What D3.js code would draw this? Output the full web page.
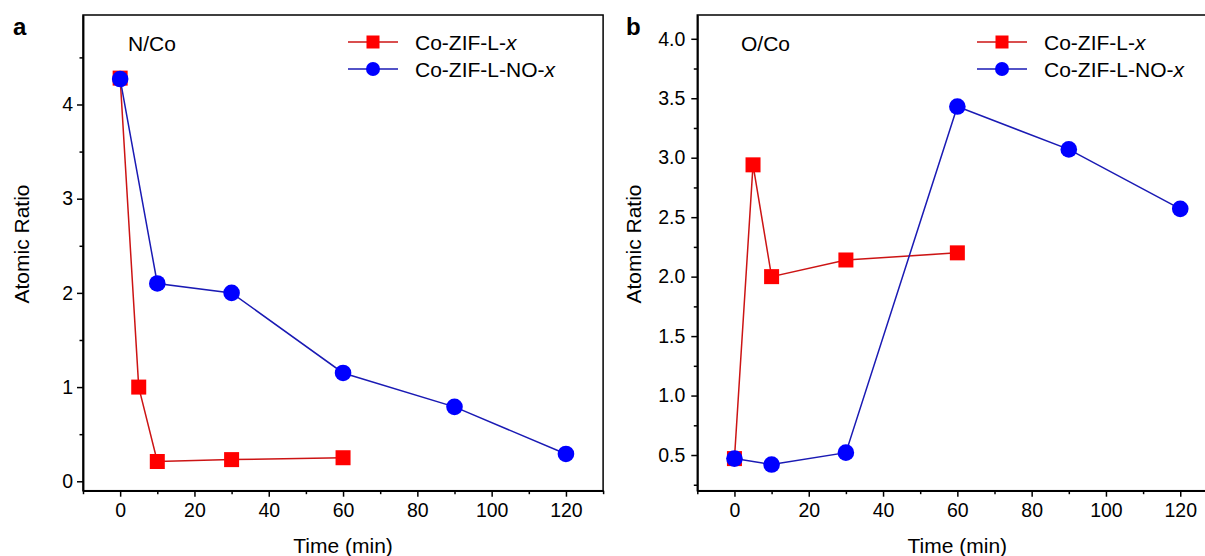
<!DOCTYPE html>
<html>
<head>
<meta charset="utf-8">
<script src="https://cdn.jsdelivr.net/npm/d3@7"></script>
<style>
  body { margin: 0; background: #fff; }
  svg text { font-family: "Liberation Sans", Arial, sans-serif; fill: #000; }
</style>
</head>
<body>
<div id="chart"></div>
<script>
// Chart data
const SERIES_NAMES = ["Co-ZIF-L-", "Co-ZIF-L-NO-"];

const TIME_A_RED = [0, 5, 10, 30, 60];
const RATIO_A_RED = [4.28, 1.0, 0.21, 0.23, 0.25];
const TIME_A_BLUE = [0, 10, 30, 60, 90, 120];
const RATIO_A_BLUE = [4.27, 2.10, 2.00, 1.15, 0.79, 0.29];

const TIME_B_RED = [0, 5, 10, 30, 60];
const RATIO_B_RED = [0.47, 2.94, 2.00, 2.14, 2.20];
const TIME_B_BLUE = [0, 10, 30, 60, 90, 120];
const RATIO_B_BLUE = [0.47, 0.42, 0.52, 3.43, 3.07, 2.57];

const X_TICKS = [0, 20, 40, 60, 80, 100, 120];
const X_MINOR = [-10, 10, 30, 50, 70, 90, 110, 130];
const Y_TICKS_A = [0, 1, 2, 3, 4];
const Y_MINOR_A = [0.5, 1.5, 2.5, 3.5, 4.5];
const Y_TICKS_B = [0.5, 1.0, 1.5, 2.0, 2.5, 3.0, 3.5, 4.0];
const Y_MINOR_B = [0.25, 0.75, 1.25, 1.75, 2.25, 2.75, 3.25, 3.75];

const WIDTH = 1205, HEIGHT = 556;
const RED = "#ff0000", RED_LINE = "#cc1414";
const BLUE = "#0000ff", BLUE_LINE = "#1a1ab4";
const TOP = 15, BOTTOM = 490.7;

const svg = d3.select("#chart").append("svg")
  .attr("width", WIDTH).attr("height", HEIGHT);

function panel(opt) {
  const g = svg.append("g");
  const x = d3.scaleLinear().domain([-10, 130]).range([opt.left, opt.left + 140 * 3.715]);
  const y = d3.scaleLinear().domain(opt.yDomain).range([BOTTOM, TOP]);

  // frame
  g.append("rect")
    .attr("x", x.range()[0]).attr("y", TOP)
    .attr("width", x.range()[1] - x.range()[0]).attr("height", BOTTOM - TOP)
    .attr("fill", "none").attr("stroke", "#000").attr("stroke-width", 1.5);

  // x axis
  g.append("g").attr("transform", "translate(0," + BOTTOM + ")")
    .call(d3.axisBottom(x).tickValues(X_TICKS).tickSize(6).tickSizeOuter(0).tickPadding(6));
  g.append("g").attr("transform", "translate(0," + BOTTOM + ")")
    .call(d3.axisBottom(x).tickValues(X_MINOR).tickSize(3.5).tickSizeOuter(0).tickFormat(""));

  // y axis
  g.append("g").attr("transform", "translate(" + x.range()[0] + ",0)")
    .call(d3.axisLeft(y).tickValues(opt.yTicks).tickSize(6).tickSizeOuter(0).tickPadding(opt.yPad)
      .tickFormat(opt.yFormat));
  g.append("g").attr("transform", "translate(" + x.range()[0] + ",0)")
    .call(d3.axisLeft(y).tickValues(opt.yMinor).tickSize(3.5).tickSizeOuter(0).tickFormat(""));

  g.selectAll(".domain").attr("stroke", "#000").attr("stroke-width", 1.5);
  g.selectAll(".tick line").attr("stroke", "#000").attr("stroke-width", 1.5);
  g.selectAll(".tick text").attr("font-size", "19.5px")
    .attr("font-family", "'Liberation Sans', Arial, sans-serif").attr("fill", "#000");

  // axis titles
  g.append("text")
    .attr("x", (x.range()[0] + x.range()[1]) / 2).attr("y", 553)
    .attr("text-anchor", "middle").attr("font-size", "21px").text("Time (min)");
  g.append("text")
    .attr("transform", "translate(" + opt.yTitleX + ",244) rotate(-90)")
    .attr("text-anchor", "middle").attr("font-size", "21px").text("Atomic Ratio");

  // panel letter and annotation
  g.append("text").attr("x", opt.letterX).attr("y", 35)
    .attr("font-size", "24px").attr("font-weight", "bold").text(opt.letter);
  g.append("text").attr("x", opt.noteX).attr("y", 51)
    .attr("font-size", "21px").text(opt.note);

  const line = d3.line().x(d => x(d[0])).y(d => y(d[1]));

  // red series
  const redData = d3.zip(opt.tRed, opt.rRed);
  g.append("path").datum(redData).attr("d", line)
    .attr("fill", "none").attr("stroke", RED_LINE).attr("stroke-width", 1.5);
  g.selectAll(".sq").data(redData).enter().append("rect")
    .attr("x", d => x(d[0]) - 7.5).attr("y", d => y(d[1]) - 7.5)
    .attr("width", 15).attr("height", 15).attr("fill", RED);

  // blue series
  const blueData = d3.zip(opt.tBlue, opt.rBlue);
  g.append("path").datum(blueData).attr("d", line)
    .attr("fill", "none").attr("stroke", BLUE_LINE).attr("stroke-width", 1.5);
  g.selectAll(".ci").data(blueData).enter().append("circle")
    .attr("cx", d => x(d[0])).attr("cy", d => y(d[1]))
    .attr("r", 8.3).attr("fill", BLUE);

  // legend
  const lg = g.append("g").attr("transform", "translate(" + opt.legendX + ",0)");
  [[RED_LINE, RED, 42], [BLUE_LINE, BLUE, 69]].forEach((s, i) => {
    lg.append("line").attr("x1", 0).attr("x2", 50).attr("y1", s[2]).attr("y2", s[2])
      .attr("stroke", s[0]).attr("stroke-width", 1.5);
    if (i === 0) {
      lg.append("rect").attr("x", 25 - 6.5).attr("y", s[2] - 6.5)
        .attr("width", 13).attr("height", 13).attr("fill", s[1]);
    } else {
      lg.append("circle").attr("cx", 25).attr("cy", s[2]).attr("r", 7).attr("fill", s[1]);
    }
    const t = lg.append("text").attr("x", 67).attr("y", s[2] + 7.5).attr("font-size", "21px");
    t.append("tspan").text(SERIES_NAMES[i]);
    t.append("tspan").attr("font-style", "italic").text("x");
  });
}

panel({
  left: 83, yDomain: [-0.1, 4.95], yTicks: Y_TICKS_A, yMinor: Y_MINOR_A,
  yFormat: d3.format("d"), yPad: 4, yTitleX: 29,
  letter: "a", letterX: 13, note: "N/Co", noteX: 128, legendX: 348,
  tRed: TIME_A_RED, rRed: RATIO_A_RED, tBlue: TIME_A_BLUE, rBlue: RATIO_A_BLUE
});

panel({
  left: 697.3, yDomain: [0.2, 4.2], yTicks: Y_TICKS_B, yMinor: Y_MINOR_B,
  yFormat: d3.format(".1f"), yPad: 6, yTitleX: 641,
  letter: "b", letterX: 626, note: "O/Co", noteX: 741, legendX: 977,
  tRed: TIME_B_RED, rRed: RATIO_B_RED, tBlue: TIME_B_BLUE, rBlue: RATIO_B_BLUE
});
</script>
</body>
</html>
